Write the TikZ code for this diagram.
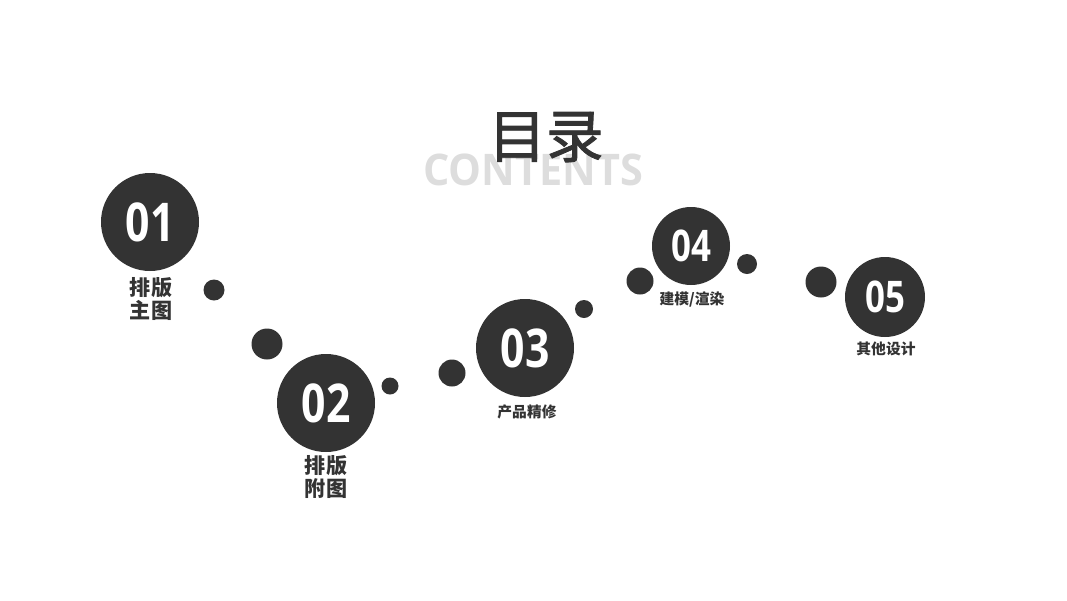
\documentclass[tikz,border=0pt]{standalone}
\usepackage{fontspec}
\setmainfont{Open Sans}
\newfontfamily\numfont{Open Sans}[FakeStretch=0.8]
\newfontfamily\headfont{Open Sans}[FakeStretch=0.95]
\newfontfamily\cjk{Noto Sans CJK SC}
\newfontfamily\cjktitle{Noto Sans CJK SC}[FakeBold=1.5]
\definecolor{darkgrey}{HTML}{333333}
\definecolor{lightgrey}{HTML}{DDDDDD}

\begin{document}
\begin{tikzpicture}[x=0.025cm, y=-0.025cm,
    step circle/.style={circle, fill=darkgrey, inner sep=0pt, minimum size=#1*0.025cm,
        text=white, font=\numfont\bfseries\fontsize{38}{38}\selectfont},
    small circle/.style={step circle=#1, font=\numfont\bfseries\fontsize{31}{31}\selectfont},
    dot/.style={circle, fill=darkgrey, inner sep=0pt, minimum size=#1*0.025cm},
    big label/.style={text=darkgrey, align=center, font=\cjk\bfseries\fontsize{15}{16.5}\selectfont},
    label/.style={text=darkgrey, font=\cjk\bfseries\fontsize{10.5}{12}\selectfont}]
    \useasboundingbox (0,0) rectangle (1067,600);

    % Title
    \node[text=lightgrey, anchor=base, font=\headfont\bfseries\fontsize{31}{31}\selectfont] (contents) at (533,185) {CONTENTS};
    \node[text=darkgrey, font=\cjktitle\fontsize{41}{41}\selectfont] (title) at (546,137) {目录};

    % Dots between the steps
    \node[dot=21] (d1) at (214,290) {};
    \node[dot=31] (d2) at (267,344) {};
    \node[dot=17] (d3) at (390,386) {};
    \node[dot=27] (d4) at (452,373) {};
    \node[dot=18] (d5) at (584,309) {};
    \node[dot=27] (d6) at (640,281) {};
    \node[dot=20] (d7) at (747,264) {};
    \node[dot=31] (d8) at (821,282) {};

    % Steps
    \node[step circle=98] (s1) at (150,222) {01};
    \node[step circle=98] (s2) at (326,403) {02};
    \node[step circle=98] (s3) at (525,348) {03};
    \node[small circle=78] (s4) at (691,246) {04};
    \node[small circle=80] (s5) at (885,297) {05};

    % Labels
    \node[big label] (l1) at (151,299) {排版\\主图};
    \node[big label] (l2) at (326,477) {排版\\附图};
    \node[label] (l3) at (527,412) {产品精修};
    \node[label] (l4) at (692,300) {建模/渲染};
    \node[label] (l5) at (886,349) {其他设计};
\end{tikzpicture}
\end{document}
